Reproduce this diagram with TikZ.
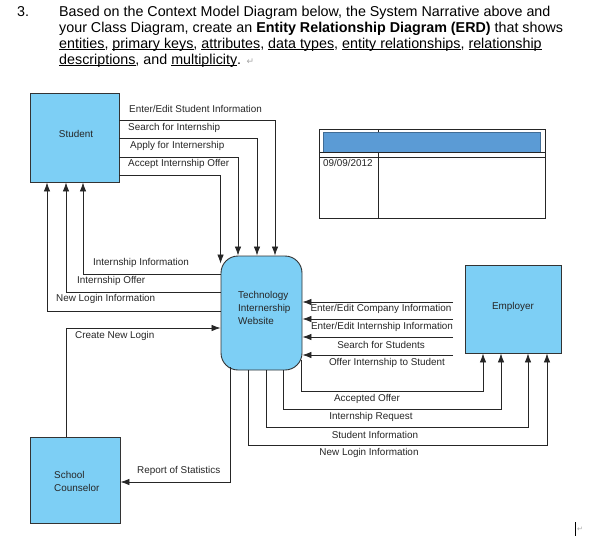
\documentclass[tikz,border=0pt]{standalone}
\usepackage{fontspec}
\setmainfont{Liberation Sans}
\newfontfamily\symfont{DejaVu Sans}
\usetikzlibrary{arrows.meta,calc}
\definecolor{boxblue}{RGB}{125,207,245}
\definecolor{barblue}{RGB}{91,155,213}
\newcommand\myul[1]{\setbox0\hbox{#1}\rlap{\rule[-2pt]{\wd0}{0.8pt}}\box0}
\begin{document}
\begin{tikzpicture}[x=1pt,y=-1pt,
 ent/.style={draw=black!80, line width=0.9pt, fill=boxblue, inner sep=0pt},
 flow/.style={draw=black!85, line width=0.8pt, -{Latex[length=9pt,width=6.5pt]}},
 plain/.style={draw=black!85, line width=0.8pt},
 lbl/.style={font=\fontsize{9.9}{13}\selectfont, inner sep=0pt, text=black!85},
 lblw/.style={lbl, anchor=west},
 head/.style={font=\fontsize{14.3}{16}\selectfont, inner sep=0pt, anchor=base west}]
\useasboundingbox (0,0) rectangle (594,541);

% header
\node[head] (n3) at (17,16) {3.};
\node[head] (h1) at (59,16) {Based on the Context Model Diagram below, the System Narrative above and};
\node[head] (h2) at (59,32) {your Class Diagram, create an \textbf{Entity Relationship Diagram (ERD)} that shows};
\node[head] (h3) at (59,48) {\myul{entities}, \myul{primary keys}, \myul{attributes}, \myul{data types}, \myul{entity relationships}, \myul{relationship}};
\node[head] (h4) at (59,64) {\myul{descriptions}, and \myul{multiplicity}. {\color{black!35}\symfont\fontsize{9}{9}\selectfont ↵}};

% entities
\node[ent, minimum width=89pt, minimum height=89pt] (stu) at (74.5,137.5) {};
\node[lbl] (stut) at (76,134) {Student};
\node[ent, rounded corners=17pt, minimum width=81pt, minimum height=114pt] (web) at (261.5,313) {};
\node[lbl, align=left, anchor=west] (webt) at (238,308) {Technology\\Internership\\Website};
\node[ent, minimum width=96pt, minimum height=88pt] (emp) at (513,309) {};
\node[lbl] (empt) at (513,307) {Employer};
\node[ent, minimum width=90pt, minimum height=86pt] (cou) at (75,480) {};
\node[lbl, align=left, anchor=west] (cout) at (54,481) {School\\Counselor};

% student -> website
\draw[flow] (stu.east |- 0,120) -| (web.north -| 275,0);
\draw[flow] (stu.east |- 0,138) -| (web.north -| 257,0);
\draw[flow] (stu.east |- 0,157) -| (web.north -| 238,0);
\draw[flow] (stu.east |- 0,175) -| ($(web.north west)+(0,8)$);
\node[lblw] (l1) at (129,109) {Enter/Edit Student Information};
\node[lblw] (l2) at (128,128) {Search for Internship};
\node[lblw] (l3) at (130,146) {Apply for Internership};
\node[lblw] (l4) at (128,164) {Accept Internship Offer};

% website -> student
\draw[flow] (web.west |- 0,274) -| (stu.south -| 83,0);
\draw[flow] (web.west |- 0,292) -| (stu.south -| 66,0);
\draw[flow] (web.west |- 0,311) -| (stu.south -| 47,0);
\node[lblw] (l5) at (93,263) {Internship Information};
\node[lblw] (l6) at (77,281) {Internship Offer};
\node[lblw] (l7) at (56,299) {New Login Information};

% counselor
\draw[flow] (cou.north -| 66,0) |- (web.west |- 0,328);
\node[lblw] (l8) at (75,336) {Create New Login};
\draw[flow] ($(web.south -| 230,0)+(0,-3)$) |- (cou.east |- 0,482);
\node[lblw] (l9) at (137,471) {Report of Statistics};

% employer -> website
\coordinate (e1) at (453,302);
\coordinate (e2) at (453,319);
\coordinate (e3) at (453,337);
\coordinate (e4) at (453,355);
\draw[flow] (e1) -- (web.east |- e1);
\draw[flow] (e2) -- (web.east |- e2);
\draw[flow] (e3) -- (web.east |- e3);
\draw[flow] (e4) -- (web.east |- e4);
\node[lbl] (l10) at (381,309) {Enter/Edit Company Information};
\node[lbl] (l11) at (382,327) {Enter/Edit Internship Information};
\node[lbl] (l12) at (381,345) {Search for Students};
\node[lbl] (l13) at (387,363) {Offer Internship to Student};

% website -> employer
\draw[flow] ($(web.south -| 301,0)+(0,-10)$) -- (301,391) -| (emp.south -| 483,0);
\draw[flow] (web.south -| 283,0) -- (283,409) -| (emp.south -| 501,0);
\draw[flow] (web.south -| 266,0) -- (266,427) -| (emp.south -| 528,0);
\draw[flow] (web.south -| 248,0) -- (248,445) -| (emp.south -| 547,0);
\node[lbl] (l14) at (367,399) {Accepted Offer};
\node[lbl] (l15) at (371,417) {Internship Request};
\node[lbl] (l16) at (375,435) {Student Information};
\node[lbl] (l17) at (369,453) {New Login Information};

% table
\draw[black!85, line width=0.7pt] (378,129) -- (378,218);
\draw[black!85, line width=0.7pt] (319,129) rectangle (545,218);
\fill[barblue, draw=barblue!70!black, line width=0.6pt] (323,132) rectangle (540,152);
\draw[black!85, line width=0.7pt] (319,152) -- (545,152) (319,157) -- (545,157);
\node[lblw] (date) at (323,163) {09/09/2012};

% cursor mark
\draw[black, line width=1pt] (575,522) -- (575,536);
\node[inner sep=0pt, text=black!35, font=\symfont\fontsize{7}{7}\selectfont] (ret) at (580,529) {↵};
\end{tikzpicture}
\end{document}
